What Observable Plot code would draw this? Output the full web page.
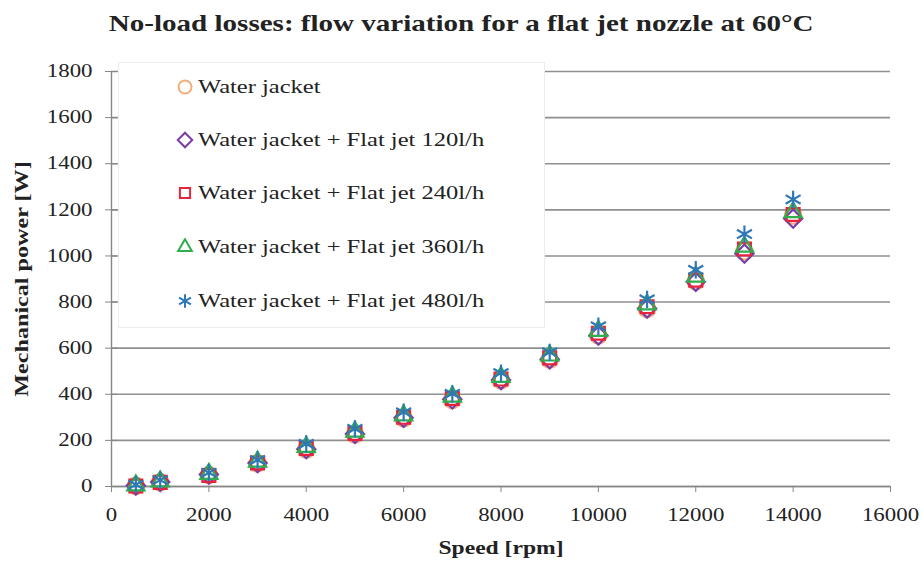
<!DOCTYPE html>
<html>
<head>
<meta charset="utf-8">
<script src="https://cdn.jsdelivr.net/npm/d3@7"></script>
<script src="https://cdn.jsdelivr.net/npm/@observablehq/plot@0.6"></script>
<style>
  body { margin: 0; background: #fff; }
  #root { position: relative; width: 923px; height: 563px; font-family: "Liberation Serif", "Times New Roman", serif; color: #222; }
  #title { height: 45px; line-height: 46px; text-align: center; font-weight: bold; font-size: 24px; }
  #title span { display: inline-block; transform: scaleX(1.21); transform-origin: center; }
  #legend { position: absolute; left: 118px; top: 62px; width: 427px; height: 266px; background: #fff; border: 1px solid #ececec; box-sizing: border-box; }
  .row { position: absolute; left: 0; height: 24px; display: flex; align-items: center; }
  .row svg { position: absolute; left: 57px; top: 3px; }
  .row span { position: absolute; left: 79px; white-space: nowrap; font-size: 19px; transform: scaleX(1.29); transform-origin: left center; }
  #chart svg text { font-family: "Liberation Serif", "Times New Roman", serif; }
</style>
</head>
<body>
<div id="root">
  <div id="title"><span>No-load losses: flow variation for a flat jet nozzle at 60°C</span></div>
  <div id="chart"></div>
  <div id="legend"></div>
</div>
<script>
// ---- data ----
const speeds = [500, 1000, 2000, 3000, 4000, 5000, 6000, 7000, 8000, 9000, 10000, 11000, 12000, 13000, 14000];
const waterJacket = [3, 18, 50, 100, 160, 225, 295, 375, 460, 550, 655, 770, 890, 1020, 1175];
const flatJet120 = [4, 20, 52, 102, 162, 228, 298, 378, 462, 552, 655, 772, 888, 1010, 1162];
const flatJet240 = [2, 18, 48, 102, 165, 230, 300, 382, 466, 558, 665, 780, 895, 1030, 1180];
const flatJet360 = [5, 22, 55, 108, 172, 238, 308, 390, 475, 568, 675, 790, 910, 1040, 1190];
const flatJet480 = [8, 28, 60, 115, 185, 250, 322, 402, 492, 582, 695, 812, 940, 1095, 1245];
const seriesNames = ["Water jacket", "Water jacket + Flat jet 120l/h", "Water jacket + Flat jet 240l/h", "Water jacket + Flat jet 360l/h", "Water jacket + Flat jet 480l/h"];
const seriesValues = [waterJacket, flatJet120, flatJet240, flatJet360, flatJet480];
const seriesSymbols = ["circle", "diamond2", "square2", "triangle2", "asterisk"];
const seriesColors = ["#f2ad78", "#7a3da8", "#e4253d", "#2fae4e", "#2f78b8"];
const xTicks = [0, 2000, 4000, 6000, 8000, 10000, 12000, 14000, 16000];
const yTicks = [0, 200, 400, 600, 800, 1000, 1200, 1400, 1600, 1800];
const xTitle = "Speed [rpm]";
const yTitle = "Mechanical power [W]";

const R = 8.2;
const rows = [];
seriesValues.forEach((vals, s) => speeds.forEach((sp, i) => rows.push({series: s, speed: sp, power: vals[i]})));

const gridColor = "#8f8f8f";
const marks = [
  Plot.gridY(yTicks, {stroke: gridColor, strokeOpacity: 1, strokeWidth: 1.6}),
  Plot.ruleX([0], {stroke: "#868686", strokeWidth: 1.4}),
  Plot.ruleY([0], {stroke: "#868686", strokeWidth: 1.6}),
  Plot.axisX(xTicks, {tickSize: 6, tickPadding: 16, stroke: "#868686", label: null, fontSize: 18, tickFormat: d => String(d)}),
  Plot.axisY(yTicks, {tickSize: 6, tickPadding: 13, stroke: "#868686", label: null, fontSize: 18, tickFormat: d => String(d)}),
  Plot.axisY(yTicks, {tickSize: 6, dx: 6, stroke: "#868686", label: null, tickFormat: () => ""}),
  Plot.text([xTitle], {frameAnchor: "bottom", dy: 67, fontWeight: "bold", fontSize: 18, fill: "#222"}),
  Plot.text([yTitle], {frameAnchor: "left", textAnchor: "middle", dx: -89, rotate: -90, fontWeight: "bold", fontSize: 18, fill: "#222"})
];
seriesValues.forEach((vals, s) => {
  marks.push(Plot.dot(rows.filter(d => d.series === s), {
    x: "speed", y: "power", r: R, symbol: () => seriesSymbols[s],
    stroke: seriesColors[s], strokeWidth: 2.2, fill: "none"
  }));
});

const chart = Plot.plot({
  width: 923, height: 518,
  marginLeft: 111, marginRight: 33, marginTop: 26, marginBottom: 77,
  style: {fontFamily: "'Liberation Serif', 'Times New Roman', serif", fontSize: "18px", color: "#222", background: "#fff", overflow: "visible"},
  x: {domain: [0, 16000]},
  y: {domain: [0, 1800]},
  symbol: {type: "identity"},
  marks
});
document.getElementById("chart").appendChild(chart);

// stretch texts horizontally (along their baseline) like the reference
d3.select(chart).selectAll("text").each(function () {
  const s = this.textContent;
  if (!s) return;
  let k = 1.27;
  if (s === xTitle) k = 1.31;
  else if (s === yTitle) k = 1.34;
  const w = this.getComputedTextLength();
  this.setAttribute("textLength", (w * k).toFixed(1));
  this.setAttribute("lengthAdjust", "spacingAndGlyphs");
});

// legend
const legend = d3.select("#legend");
const rowCenters = [24, 77, 130, 184, 238];
const symbolMap = {circle: d3.symbolCircle, diamond2: d3.symbolDiamond2, square2: d3.symbolSquare2, triangle2: d3.symbolTriangle2, asterisk: d3.symbolAsterisk};
seriesNames.forEach((name, s) => {
  const row = legend.append("div").attr("class", "row").style("top", (rowCenters[s] - 12) + "px");
  const svg = row.append("svg").attr("width", 18).attr("height", 18);
  const rr = 6.5;
  svg.append("path")
    .attr("transform", "translate(9,9)")
    .attr("d", d3.symbol(symbolMap[seriesSymbols[s]], Math.PI * rr * rr)())
    .attr("fill", "none").attr("stroke", seriesColors[s]).attr("stroke-width", 2);
  row.append("span").text(name);
});
</script>
</body>
</html>
